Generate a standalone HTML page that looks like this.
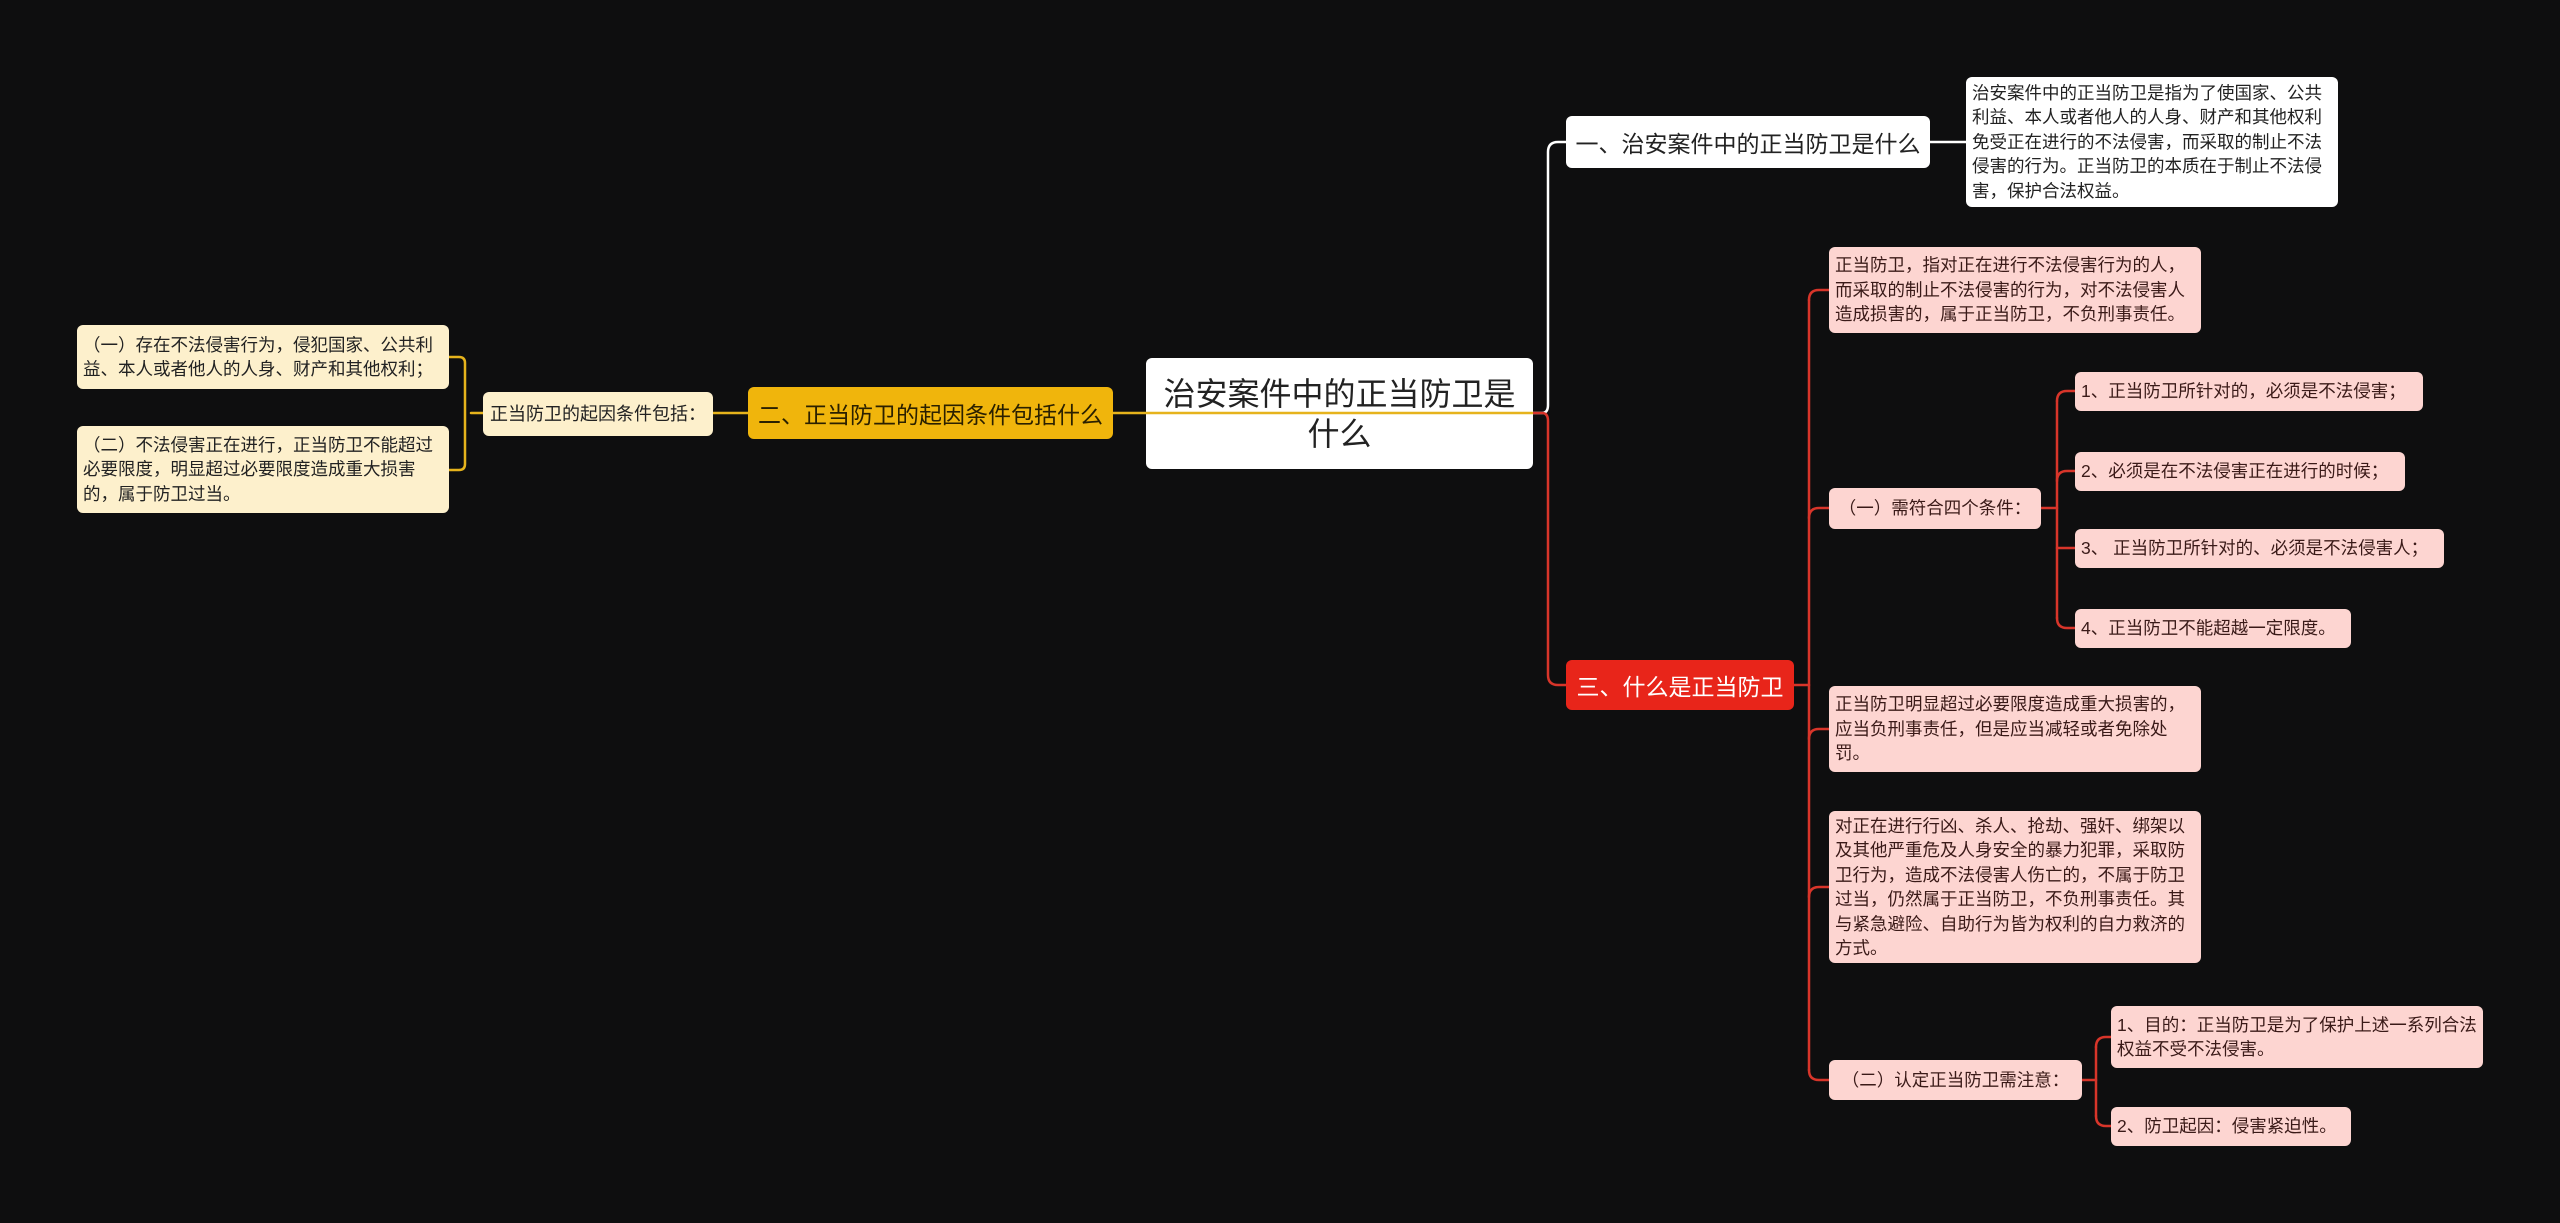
<!DOCTYPE html>
<html><head><meta charset="utf-8"><style>
html,body{margin:0;padding:0;background:#0e0e0f;width:2560px;height:1223px;overflow:hidden;font-family:"Liberation Sans","Noto Sans CJK SC",sans-serif}
.n{position:absolute;box-sizing:border-box;border-radius:6px;display:flex;align-items:center}
.t{font-size:17.5px;line-height:24.5px;padding:2px 6px;color:#222}
.s{white-space:nowrap}
.cr{background:#fdf0cc}
.pk{background:#fdd5d1;color:#3a1a18}
svg{position:absolute;left:0;top:0}
</style></head><body>
<svg width="2560" height="1223" fill="none" stroke-width="2.5" stroke-linecap="round">
<g stroke="#e6b31c">
<path d="M713,413 H1533"/>
<path d="M483,413 H471 M465,363 Q465,357 459,357 H449 M465,464 Q465,470 459,470 H449 M465,363 V464"/>
</g>
<g stroke="#ffffff">
<path d="M1533,413 H1542 Q1548,413 1548,405 V152 Q1548,142 1558,142 H1566"/>
<path d="M1930,142 H1966"/>
</g>
<g stroke="#d8352a">
<path d="M1533,413 H1542 Q1548,413 1548,421 V675 Q1548,685 1558,685 H1566"/>
<path d="M1794,685 H1809"/>
<path d="M1809,300 V1070"/>
<path d="M1809,300 Q1809,290 1819,290 H1829"/>
<path d="M1809,518 Q1809,508 1819,508 H1829"/>
<path d="M1809,739 Q1809,729 1819,729 H1829"/>
<path d="M1809,897 Q1809,887 1819,887 H1829"/>
<path d="M1809,1070 Q1809,1080 1819,1080 H1829"/>
<path d="M2041,508 H2057"/>
<path d="M2057,401 V618"/>
<path d="M2057,401 Q2057,391 2067,391 H2075"/>
<path d="M2057,481 Q2057,471 2067,471 H2075"/>
<path d="M2057,548 H2075"/>
<path d="M2057,618 Q2057,628 2067,628 H2075"/>
<path d="M2082,1080 H2096"/>
<path d="M2096,1047 V1116"/>
<path d="M2096,1047 Q2096,1037 2106,1037 H2111"/>
<path d="M2096,1116 Q2096,1126 2106,1126 H2111"/>
</g>
</svg>

<div class="n" style="left:1146px;top:358px;width:387px;height:111px;background:#fff;justify-content:center;text-align:center;font-size:32px;line-height:40px;color:#222;padding:0 8px">治安案件中的正当防卫是什么</div>

<div class="n s" style="left:748px;top:387px;width:365px;height:52px;background:#f0b50c;justify-content:center;font-size:23px;color:#2a2000">二、正当防卫的起因条件包括什么</div>
<div class="n cr t s" style="left:483px;top:392px;width:230px;height:44px;font-size:18px;justify-content:center">正当防卫的起因条件包括：</div>
<div class="n cr t" style="left:77px;top:325px;width:372px;height:64px">（一）存在不法侵害行为，侵犯国家、公共利益、本人或者他人的人身、财产和其他权利；</div>
<div class="n cr t" style="left:77px;top:426px;width:372px;height:87px">（二）不法侵害正在进行，正当防卫不能超过必要限度，明显超过必要限度造成重大损害的，属于防卫过当。</div>

<div class="n s" style="left:1566px;top:116px;width:364px;height:52px;background:#fff;justify-content:center;font-size:23px;color:#222">一、治安案件中的正当防卫是什么</div>
<div class="n t" style="left:1966px;top:77px;width:372px;height:130px;background:#fff">治安案件中的正当防卫是指为了使国家、公共利益、本人或者他人的人身、财产和其他权利免受正在进行的不法侵害，而采取的制止不法侵害的行为。正当防卫的本质在于制止不法侵害，保护合法权益。</div>

<div class="n s" style="left:1566px;top:660px;width:228px;height:50px;background:#e8251a;justify-content:center;font-size:23px;color:#fff">三、什么是正当防卫</div>

<div class="n pk t" style="left:1829px;top:247px;width:372px;height:86px">正当防卫，指对正在进行不法侵害行为的人，而采取的制止不法侵害的行为，对不法侵害人造成损害的，属于正当防卫，不负刑事责任。</div>
<div class="n pk t s" style="left:1829px;top:488px;width:212px;height:41px;justify-content:center">（一）需符合四个条件：</div>
<div class="n pk t s" style="left:2075px;top:372px;width:348px;height:39px">1、正当防卫所针对的，必须是不法侵害；</div>
<div class="n pk t s" style="left:2075px;top:452px;width:330px;height:39px">2、必须是在不法侵害正在进行的时候；</div>
<div class="n pk t s" style="left:2075px;top:529px;width:369px;height:39px">3、 正当防卫所针对的、必须是不法侵害人；</div>
<div class="n pk t s" style="left:2075px;top:609px;width:276px;height:39px">4、正当防卫不能超越一定限度。</div>
<div class="n pk t" style="left:1829px;top:686px;width:372px;height:86px">正当防卫明显超过必要限度造成重大损害的，应当负刑事责任，但是应当减轻或者免除处罚。</div>
<div class="n pk t" style="left:1829px;top:811px;width:372px;height:152px">对正在进行行凶、杀人、抢劫、强奸、绑架以及其他严重危及人身安全的暴力犯罪，采取防卫行为，造成不法侵害人伤亡的，不属于防卫过当，仍然属于正当防卫，不负刑事责任。其与紧急避险、自助行为皆为权利的自力救济的方式。</div>
<div class="n pk t s" style="left:1829px;top:1060px;width:253px;height:40px;justify-content:center">（二）认定正当防卫需注意：</div>
<div class="n pk t" style="left:2111px;top:1006px;width:372px;height:62px">1、目的：正当防卫是为了保护上述一系列合法权益不受不法侵害。</div>
<div class="n pk t s" style="left:2111px;top:1107px;width:240px;height:39px">2、防卫起因：侵害紧迫性。</div>

<svg width="2560" height="1223" fill="none"><path d="M1146,413 H1533" stroke="#e6b31c" stroke-width="2.5"/></svg>
</body></html>
